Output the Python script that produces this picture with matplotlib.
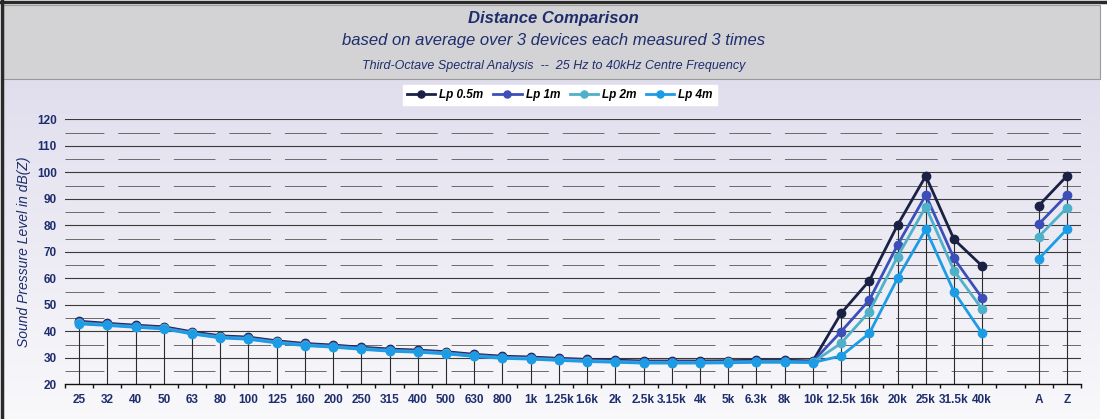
import numpy as np
import matplotlib
matplotlib.use("Agg")
import matplotlib.pyplot as plt
from matplotlib import font_manager
from matplotlib.patches import Rectangle

# ---- data -------------------------------------------------------------
categories = ["25", "32", "40", "50", "63", "80", "100", "125", "160", "200",
              "250", "315", "400", "500", "630", "800", "1k", "1.25k", "1.6k",
              "2k", "2.5k", "3.15k", "4k", "5k", "6.3k", "8k", "10k", "12.5k",
              "16k", "20k", "25k", "31.5k", "40k", "", "A", "Z"]

lp_05m = [43.8, 43.0, 42.3, 41.7, 39.8, 38.3, 37.8, 36.4, 35.4, 34.8, 34.0, 33.3,
          32.9, 32.3, 31.3, 30.6, 30.3, 29.8, 29.4, 29.1, 28.8, 28.8, 28.8, 28.9,
          29.1, 29.1, 28.8, 46.8, 59.1, 80.1, 98.6, 74.7, 64.6, np.nan, 87.4, 98.6]
lp_1m = [43.4, 42.7, 42.0, 41.4, 39.5, 38.0, 37.5, 36.1, 35.1, 34.5, 33.7, 33.0,
         32.6, 32.0, 31.0, 30.3, 30.0, 29.5, 29.1, 28.8, 28.5, 28.5, 28.5, 28.6,
         28.8, 28.8, 28.6, 39.9, 51.8, 72.6, 91.4, 67.5, 52.5, np.nan, 80.4, 91.4]
lp_2m = [43.1, 42.4, 41.7, 41.1, 39.2, 37.7, 37.2, 35.8, 34.8, 34.2, 33.4, 32.7,
         32.3, 31.7, 30.7, 30.0, 29.7, 29.2, 28.8, 28.5, 28.2, 28.2, 28.2, 28.3,
         28.5, 28.5, 28.3, 35.5, 47.4, 68.2, 87.0, 62.9, 48.3, np.nan, 75.7, 86.6]
lp_4m = [42.8, 42.2, 41.5, 40.9, 39.0, 37.5, 37.0, 35.6, 34.6, 34.0, 33.2, 32.5,
         32.1, 31.5, 30.5, 29.8, 29.5, 29.0, 28.6, 28.3, 28.0, 28.0, 28.0, 28.1,
         28.3, 28.3, 28.2, 30.7, 39.2, 60.0, 78.5, 54.9, 39.2, np.nan, 67.3, 78.5]

series_labels = ["Lp 0.5m", "Lp 1m", "Lp 2m", "Lp 4m"]
series_colors = ["#1b2145", "#3c4fb8", "#4fb1c9", "#1d9ce6"]

# ---- fonts ------------------------------------------------------------
available = {f.name for f in font_manager.fontManager.ttflist}
narrow = "Liberation Sans Narrow" if "Liberation Sans Narrow" in available else "Liberation Sans"
plt.rcParams["font.family"] = [narrow, "DejaVu Sans"]
plt.rcParams["lines.scale_dashes"] = False

navy = "#1e2d6e"

W, H = 1107, 419
fig = plt.figure(figsize=(W / 100, H / 100), dpi=100, facecolor="white")

# ---- background panels (pixel coordinates) ----------------------------
bg = fig.add_axes([0, 0, 1, 1])
bg.set_xlim(0, W)
bg.set_ylim(H, 0)
bg.axis("off")
grad = np.linspace(0, 1, 256).reshape(-1, 1)
top_c = np.array([0.880, 0.872, 0.930])
bot_c = np.array([0.975, 0.975, 0.985])
img = top_c[None, None, :] * (1 - grad[:, :, None]) + bot_c[None, None, :] * grad[:, :, None]
bg.imshow(img, extent=(3, 1100, 419, 80), aspect="auto", zorder=0)
bg.add_patch(Rectangle((3, 5), 1097, 74, facecolor="#d3d3d5", edgecolor="#9a9a9a", lw=0.8, zorder=1))
bg.plot([0, W], [2.5, 2.5], color="#2a2a2a", lw=2.5, zorder=2)
bg.plot([1.5, 1.5], [0, H], color="#2a2a2a", lw=2.5, zorder=2)
bg.set_xlim(0, W)
bg.set_ylim(H, 0)

# ---- titles ------------------------------------------------------------
fig.text(0.5, 1 - 18 / H, "Distance Comparison", ha="center", va="center",
         fontsize=12, fontweight="bold", fontstyle="italic", color=navy)
fig.text(0.5, 1 - 41 / H, "based on average over 3 devices each measured 3 times",
         ha="center", va="center", fontsize=12, fontstyle="italic", color=navy)
fig.text(0.5, 1 - 66 / H, "Third-Octave Spectral Analysis  --  25 Hz to 40kHz Centre Frequency",
         ha="center", va="center", fontsize=9, fontstyle="italic", color=navy)

# ---- main axes -----------------------------------------------------------
left, right = 65 / W, 1081 / W
bottom, top = 1 - 384.3 / H, 1 - 119.3 / H
ax = fig.add_axes([left, bottom, right - left, top - bottom])
ax.set_facecolor("none")

x = np.arange(len(categories))
ax.set_xlim(-0.5, len(categories) - 0.5)
ax.set_ylim(20, 120)

# gridlines: solid every 10 dB, dashed at the 5 dB offsets
for v in range(30, 121, 10):
    ax.axhline(v, color="#3a3a3a", lw=0.8, zorder=1)
for v in range(25, 120, 10):
    ax.axhline(v, color="#6a6a6a", lw=0.7, zorder=1, linestyle=(2, (30, 10)))

# drop lines from the highest point of each frequency band
all_vals = np.array([lp_05m, lp_1m, lp_2m, lp_4m], dtype=float)
tops = np.nanmax(np.where(np.isnan(all_vals), -np.inf, all_vals), axis=0)
for xi, t in zip(x, tops):
    if np.isfinite(t):
        ax.plot([xi, xi], [20, t], color="#2b2b2b", lw=0.8, zorder=2)

handles = []
for vals, lab, col in zip([lp_05m, lp_1m, lp_2m, lp_4m], series_labels, series_colors):
    h, = ax.plot(x, vals, color=col, lw=2.0, marker="o", markersize=6,
                 markerfacecolor=col, markeredgecolor=col, label=lab, zorder=3)
    handles.append(h)

for s in ["left", "right", "top"]:
    ax.spines[s].set_visible(False)
ax.spines["bottom"].set_color("#111111")
ax.spines["bottom"].set_linewidth(1.0)

ax.set_xticks(x)
ax.set_xticklabels(categories)
ax.set_xticks(np.arange(-0.5, len(categories), 1.0), minor=True)
ax.tick_params(axis="x", which="major", length=0, pad=7, labelsize=8.5, labelcolor=navy)
ax.tick_params(axis="x", which="minor", length=3, width=1, color="#111111", direction="out")
for t in ax.get_xticklabels():
    t.set_fontweight("bold")

ax.set_yticks(range(20, 121, 10))
ax.tick_params(axis="y", length=0, pad=6, labelsize=8.5, labelcolor=navy)
for t in ax.get_yticklabels():
    t.set_fontweight("bold")

ax.set_ylabel("Sound Pressure Level in dB(Z)", fontsize=10, fontstyle="italic",
              color=navy, labelpad=4)

leg = fig.legend(handles=handles, loc="center", bbox_to_anchor=(560 / W, 1 - 95 / H),
                 ncol=4, frameon=True, fancybox=False, handlelength=2.4,
                 handletextpad=0.35, columnspacing=0.8, borderpad=0.35,
                 markerscale=0.85,
                 prop={"weight": "bold", "style": "italic", "size": 8.5})
leg.get_frame().set_facecolor("white")
leg.get_frame().set_edgecolor("white")
leg.get_frame().set_alpha(1)

fig.savefig("out.png", dpi=100, facecolor=fig.get_facecolor())
